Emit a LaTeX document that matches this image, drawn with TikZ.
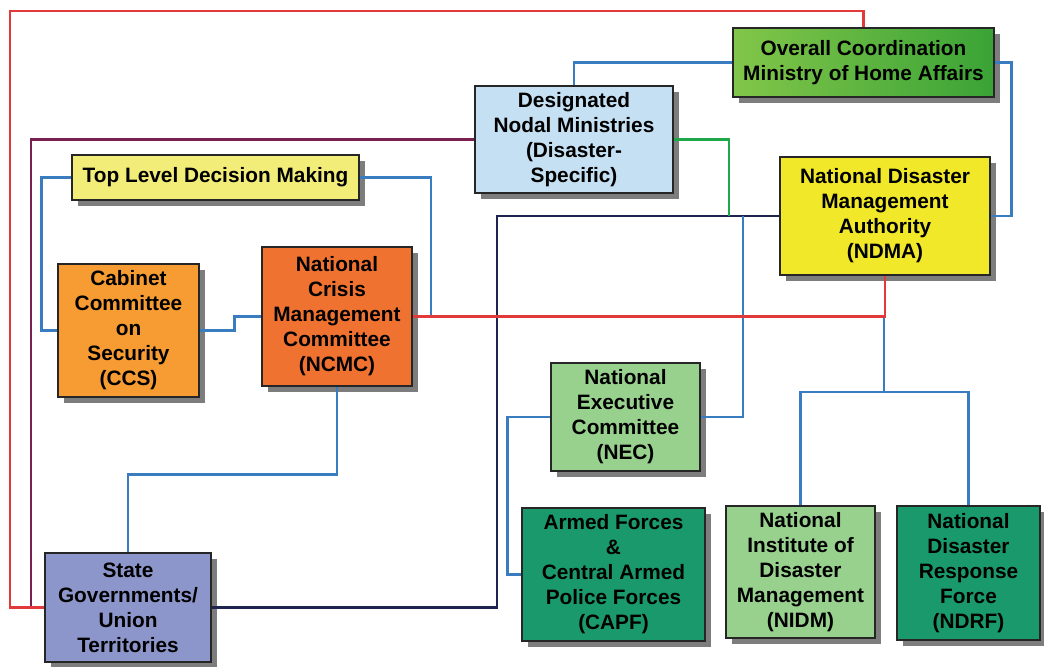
\documentclass[tikz,border=0pt]{standalone}
\usepackage{fontspec}
\setmainfont{Liberation Sans}
\usetikzlibrary{shadows}
\definecolor{mhaL}{RGB}{130,198,74}
\definecolor{mhaR}{RGB}{58,163,54}
\definecolor{dnmC}{RGB}{197,224,242}
\definecolor{topC}{RGB}{242,236,120}
\definecolor{ndmaC}{RGB}{240,232,40}
\definecolor{ccsC}{RGB}{246,156,50}
\definecolor{ncmcC}{RGB}{240,114,48}
\definecolor{stateC}{RGB}{140,150,202}
\definecolor{lgC}{RGB}{152,208,142}
\definecolor{dgC}{RGB}{26,154,108}
\definecolor{blueL}{RGB}{58,124,192}
\definecolor{redL}{RGB}{226,58,58}
\definecolor{navyL}{RGB}{30,36,80}
\definecolor{greenL}{RGB}{30,168,74}
\definecolor{purpL}{RGB}{122,32,80}
\begin{document}
\begin{tikzpicture}[x=0.025cm,y=-0.025cm,line width=1.8pt,
	box/.style={draw=black!85,line width=1.6pt,align=center,inner sep=2pt,font=\fontsize{14.8}{17.8}\selectfont\bfseries,
		drop shadow={shadow xshift=0.15cm,shadow yshift=-0.15cm,fill=black!60,opacity=0.85}},
	bl/.style={draw=blueL},rl/.style={draw=redL},nl/.style={draw=navyL},gl/.style={draw=greenL},pl/.style={draw=purpL,line width=1.5pt}]
	\useasboundingbox (0,0) rectangle (1044,666);
	\node[box,left color=mhaL,right color=mhaR,minimum width=6.53cm,minimum height=1.73cm] (mha) at (863.5,62.5) {Overall Coordination\\Ministry of Home Affairs};
	\node[box,fill=dnmC,minimum width=4.95cm,minimum height=2.68cm] (dnm) at (574,139.5) {Designated\\Nodal Ministries\\(Disaster-\\Specific)};
	\node[box,fill=topC,minimum width=7.18cm,minimum height=1.13cm] (top) at (215.5,177.5) {Top Level Decision Making};
	\node[box,fill=ndmaC,minimum width=5.25cm,minimum height=2.95cm] (ndma) at (885,216) {National Disaster\\Management\\Authority\\(NDMA)};
	\node[box,fill=ccsC,minimum width=3.53cm,minimum height=3.33cm] (ccs) at (128.5,330.5) {Cabinet\\Committee\\on\\Security\\(CCS)};
	\node[box,fill=ncmcC,minimum width=3.75cm,minimum height=3.48cm] (ncmc) at (337,316.5) {National\\Crisis\\Management\\Committee\\(NCMC)};
	\node[box,fill=lgC,minimum width=3.73cm,minimum height=2.7cm] (nec) at (625.5,417) {National\\Executive\\Committee\\(NEC)};
	\node[box,fill=stateC,minimum width=4.15cm,minimum height=2.73cm] (state) at (128,607.5) {State\\Governments/\\Union\\Territories};
	\node[box,fill=dgC,minimum width=4.58cm,minimum height=3.33cm] (capf) at (613.5,574.5) {Armed Forces\\\&\\Central Armed\\Police Forces\\(CAPF)};
	\node[box,fill=lgC,minimum width=3.73cm,minimum height=3.3cm] (nidm) at (800.5,572) {National\\Institute of\\Disaster\\Management\\(NIDM)};
	\node[box,fill=dgC,minimum width=3.58cm,minimum height=3.35cm] (ndrf) at (968.5,573) {National\\Disaster\\Response\\Force\\(NDRF)};
	\coordinate (rj) at (884,316.5);
	\coordinate (fork) at (884,392);
	\coordinate (tr) at (431,316.5);
	\coordinate (nj) at (743,216);
	\coordinate (gj) at (729,216);
	\draw[pl] (dnm.west) -| (31,607.5) -- (state.west);
	\draw[rl] (state.west) -| (10,11) -| (mha.north);
	\draw[nl] (state.east) -| (497,216) -- (ndma.west);
	\draw[gl] (dnm.east) -| (gj);
	\draw[bl] (mha.west) -| (dnm.north);
	\draw[bl] (mha.east) -- ++(16,0) |- (ndma.east);
	\draw[bl] (top.west) -- ++(-29,0) |- (ccs.west);
	\draw[bl] (top.east) -| (tr);
	\draw[bl] (ccs.east) -- ++(34,0) |- (ncmc.west);
	\draw[bl] (ncmc.south) -- ++(0,87) -| (state.north);
	\draw[bl] (nj) |- (nec.east);
	\draw[bl] (nec.west) -- ++(-42,0) |- (capf.west);
	\draw[bl] (rj) -- (fork);
	\draw[bl] (fork) -| (nidm.north);
	\draw[bl] (fork) -| (ndrf.north);
	\draw[rl] (ncmc.east) -| (ndma.south);
\end{tikzpicture}
\end{document}
